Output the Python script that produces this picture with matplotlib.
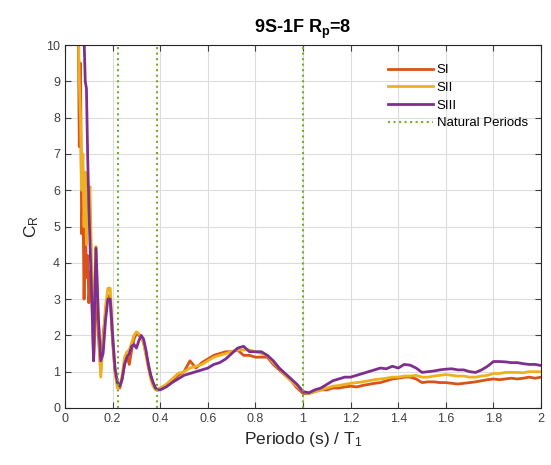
import numpy as np
import matplotlib
matplotlib.use('Agg')
import matplotlib.pyplot as plt

plt.rcParams['font.family'] = ['Liberation Sans', 'DejaVu Sans']
plt.rcParams['mathtext.default'] = 'regular'

# normalised period T/T1
period = [0.055, 0.06, 0.065, 0.07, 0.075, 0.08, 0.085, 0.09, 0.095, 0.10,
          0.105, 0.11, 0.115, 0.12, 0.125, 0.13, 0.14, 0.15, 0.16, 0.17,
          0.18, 0.19, 0.20, 0.21, 0.22, 0.23, 0.24, 0.25, 0.26, 0.27,
          0.28, 0.29, 0.30, 0.31, 0.32, 0.33, 0.34, 0.35, 0.36, 0.37,
          0.38, 0.39, 0.40, 0.425, 0.45, 0.475, 0.50, 0.525, 0.55, 0.575,
          0.60, 0.625, 0.65, 0.675, 0.70, 0.725, 0.75, 0.775, 0.80, 0.825,
          0.85, 0.875, 0.90, 0.925, 0.95, 0.975, 1.0, 1.025, 1.05, 1.075,
          1.10, 1.125, 1.15, 1.175, 1.20, 1.225, 1.25, 1.275, 1.30, 1.325,
          1.35, 1.375, 1.40, 1.425, 1.45, 1.475, 1.50, 1.525, 1.55, 1.575,
          1.60, 1.625, 1.65, 1.675, 1.70, 1.725, 1.75, 1.775, 1.80, 1.825,
          1.85, 1.875, 1.90, 1.925, 1.95, 1.975, 2.0]

cr_si = [11, 7.2, 9.5, 4.8, 6.0, 3.0, 5.2, 3.6, 4.2, 2.9,
         3.5, 3.8, 2.5, 1.3, 2.0, 4.0, 2.0, 1.0, 2.0, 2.6,
         3.1, 3.0, 1.8, 1.0, 0.65, 0.55, 0.8, 1.2, 1.45, 1.2,
         1.6, 1.9, 2.05, 2.0, 1.95, 1.8, 1.5, 1.2, 0.9, 0.7,
         0.55, 0.5, 0.55, 0.6, 0.75, 0.9, 1.0, 1.3, 1.1, 1.25,
         1.35, 1.45, 1.5, 1.55, 1.55, 1.6, 1.45, 1.45, 1.4, 1.4,
         1.4, 1.2, 1.05, 0.9, 0.75, 0.55, 0.4, 0.4, 0.45, 0.5,
         0.5, 0.55, 0.55, 0.58, 0.6, 0.58, 0.62, 0.65, 0.68, 0.7,
         0.75, 0.8, 0.82, 0.85, 0.85, 0.8, 0.7, 0.72, 0.72, 0.7,
         0.7, 0.68, 0.66, 0.68, 0.7, 0.72, 0.75, 0.78, 0.8, 0.78,
         0.8, 0.82, 0.8, 0.82, 0.85, 0.82, 0.85]

cr_sii = [11, 9.0, 8.0, 6.0, 7.0, 5.0, 6.5, 4.5, 5.5, 5.9,
          6.1, 4.5, 3.0, 1.4, 3.5, 4.45, 2.5, 0.85, 1.8, 2.8,
          3.3, 3.3, 2.0, 1.0, 0.55, 0.6, 0.9, 1.4, 1.55, 1.6,
          1.8, 2.0, 2.1, 2.05, 1.95, 1.8, 1.45, 1.1, 0.8, 0.6,
          0.5, 0.5, 0.55, 0.65, 0.8, 0.95, 1.0, 1.1, 1.15, 1.2,
          1.3, 1.4, 1.45, 1.5, 1.55, 1.6, 1.6, 1.6, 1.55, 1.5,
          1.45, 1.25, 1.1, 0.9, 0.75, 0.6, 0.45, 0.4, 0.45, 0.5,
          0.55, 0.6, 0.62, 0.65, 0.68, 0.7, 0.72, 0.75, 0.78, 0.8,
          0.82, 0.85, 0.85, 0.88, 0.88, 0.9, 0.85, 0.85, 0.88, 0.9,
          0.92, 0.9, 0.88, 0.88, 0.85, 0.85, 0.88, 0.9, 0.95, 0.95,
          0.98, 0.98, 0.98, 0.97, 1.0, 1.0, 1.0]

cr_siii = [12, 12, 12, 11, 10.5, 10.2, 9.0, 8.8, 7.0, 5.6,
           4.5, 3.5, 2.5, 1.3, 3.0, 4.4, 2.5, 1.3, 1.5, 2.4,
           3.0, 3.0, 2.0, 1.1, 0.7, 0.6, 0.8, 1.2, 1.4, 1.5,
           1.7, 1.75, 1.65, 1.85, 2.0, 1.9, 1.6, 1.2, 0.9, 0.7,
           0.55, 0.5, 0.5, 0.58, 0.7, 0.8, 0.9, 0.95, 1.0, 1.05,
           1.1, 1.2, 1.25, 1.35, 1.5, 1.65, 1.7, 1.55, 1.55, 1.55,
           1.45, 1.3, 1.1, 0.95, 0.8, 0.65, 0.45, 0.42, 0.5, 0.55,
           0.65, 0.75, 0.8, 0.85, 0.85, 0.9, 0.95, 1.0, 1.05, 1.1,
           1.08, 1.15, 1.1, 1.2, 1.18, 1.1, 0.98, 1.0, 1.02, 1.05,
           1.07, 1.08, 1.05, 1.05, 1.0, 0.98, 1.05, 1.15, 1.28, 1.28,
           1.27, 1.25, 1.25, 1.22, 1.2, 1.2, 1.17]

natural_periods = [0.223, 0.387, 1.0]
series_names = ['SI', 'SII', 'SIII']
colors = ['#D95319', '#EDB120', '#7E2F8E']

fig = plt.figure(figsize=(5.51, 4.65), dpi=100)
ax = fig.add_axes([0.118, 0.1226, 0.864, 0.7806])

for vals, name, c in zip([cr_si, cr_sii, cr_siii], series_names, colors):
    ax.plot(period, vals, color=c, linewidth=2, label=name)

for i, tp in enumerate(natural_periods):
    ax.axvline(tp, color='#77AC30', linestyle=':', linewidth=1.5,
               label='Natural Periods' if i == 0 else None)

ax.set_xlim(0, 2)
ax.set_ylim(0, 10)
ax.set_xticks(np.arange(0, 2.01, 0.2))
ax.set_xticklabels(['0', '0.2', '0.4', '0.6', '0.8', '1', '1.2', '1.4', '1.6', '1.8', '2'])
ax.set_yticks(range(0, 11))
ax.grid(True, color='#dcdcdc', linewidth=0.8)
ax.set_axisbelow(True)
ax.tick_params(direction='in', top=True, right=True, labelsize=9, colors='#404040', length=4)
for s in ax.spines.values():
    s.set_color('#262626')
    s.set_linewidth(0.8)

ax.set_title('9S-1F R$_p$=8', fontsize=13, fontweight='bold', pad=9)
ax.set_xlabel('Periodo (s) / T$_1$', fontsize=12.5, color='#262626')
ax.set_ylabel('C$_R$', fontsize=12.5, color='#262626')

ax.legend(loc='upper left', bbox_to_anchor=(0.678, 0.948), frameon=False, fontsize=9.5,
          borderpad=0, borderaxespad=0, handlelength=3.4, labelspacing=0.42, handletextpad=0.3)

fig.savefig('out.png', dpi=100)
